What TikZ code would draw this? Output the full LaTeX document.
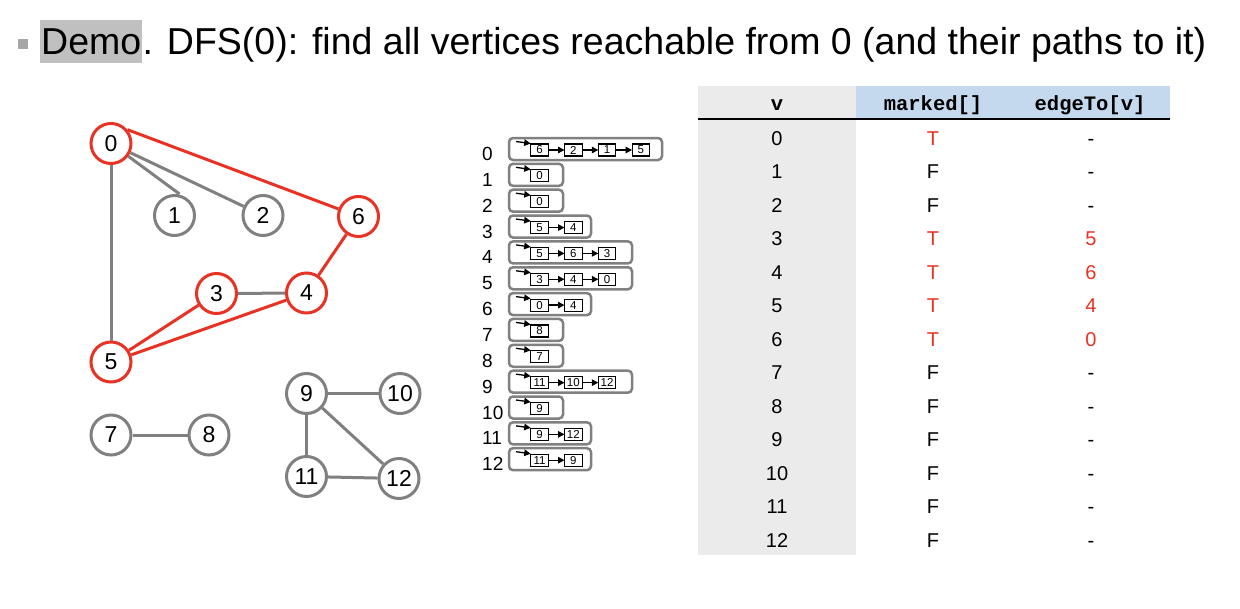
\documentclass[tikz,border=0pt]{standalone}
\usepackage{fontspec}
\setmainfont{Liberation Sans}
\setmonofont{Liberation Mono}
\usetikzlibrary{arrows.meta}
\definecolor{dfsred}{RGB}{232,50,36}
\definecolor{edgegray}{RGB}{128,128,128}
\definecolor{hlgray}{RGB}{192,192,192}
\definecolor{bulletgray}{RGB}{166,166,166}
\definecolor{colgray}{RGB}{235,235,235}
\definecolor{headblue}{RGB}{197,217,238}
\newcommand{\setfs}[1]{\fontsize{#1}{#1}\selectfont}
% one row of the adjacency lists: index, neighbours, right edge of frame
\newcommand{\adjrow}[3]{%
  \pgfmathsetmacro{\ry}{149+25.85*#1}%
  \node[idx] (lbl#1) at (482,\ry+11.5) {#1};
  \draw[lst] (509,\ry-11) rectangle (#3,\ry+11);
  \foreach \val [count=\k from 0] in {#2} {
    \node[cell] (c#1-\k) at (539.5+33.8*\k,\ry+1) {\val};
    \ifnum\k>0
      \pgfmathtruncatemacro{\pk}{\k-1}
      \draw[nxt] (c#1-\pk) -- (c#1-\k);
    \fi
  }
  \coordinate (h#1) at (516,\ry-7.5);
  \draw[nxt] (h#1) -- (c#1-0.north west);
}
\begin{document}
\begin{tikzpicture}[x=1pt,y=-1pt,
  vtx/.style={circle,draw=edgegray,fill=white,line width=3pt,minimum size=40pt,inner sep=0pt,font=\setfs{23}},
  vred/.style={vtx,draw=dfsred},
  gedge/.style={edgegray,line width=3pt},
  redge/.style={dfsred,line width=3pt},
  lst/.style={draw=edgegray,line width=2.5pt,rounded corners=4pt},
  cell/.style={draw=black,line width=1.1pt,minimum width=17.5pt,minimum height=12pt,inner sep=0pt,font=\setfs{11.5}},
  nxt/.style={-{Triangle[length=6.5pt,width=6.5pt]},line width=1.3pt,shorten >=-0.5pt},
  idx/.style={anchor=base west,inner sep=0pt,font=\setfs{19}},
  tcell/.style={anchor=base,inner sep=0pt,font=\setfs{20}},
  thead/.style={anchor=base,inner sep=0pt,font=\ttfamily\bfseries\setfs{20.5}},
]
\useasboundingbox (0,0) rectangle (1240,608);

% title line
\fill[bulletgray] (18,39) rectangle (28,49);
\node[fill=hlgray,anchor=base west,inner xsep=1pt,inner ysep=0pt,text height=34pt,text depth=9pt,font=\setfs{37.5}] (demo) at (40,54) {Demo};
\node[anchor=base west,inner sep=0pt,font=\setfs{37.5}] (title) at (demo.base east) {. DFS(0): find all vertices reachable from 0 (and their paths to it)};

% graph vertices
\node[vred] (v0) at (111,143.5) {0};
\node[vtx]  (v1) at (174.5,215.5) {1};
\node[vtx]  (v2) at (263,215.5) {2};
\node[vred] (v6) at (358.5,216.5) {6};
\node[vred] (v3) at (216.5,293.5) {3};
\node[vred] (v4) at (306.5,293) {4};
\node[vred] (v5) at (111,362) {5};
\node[vtx]  (v9) at (306.5,393.5) {9};
\node[vtx]  (v10) at (400,393.5) {10};
\node[vtx]  (v7) at (111,435) {7};
\node[vtx]  (v8) at (209,435) {8};
\node[vtx]  (v11) at (306.5,476.5) {11};
\node[vtx]  (v12) at (399,478.5) {12};

% graph edges
\draw[gedge] (v0) -- ([xshift=5pt]v1.north);
\draw[gedge] (v0) -- (v2);
\draw[gedge] (v0) -- (v5);
\draw[gedge] (v3) -- (v4);
\draw[redge] (v0.40) -- (v6);
\draw[redge] (v6) -- (v4);
\draw[redge] (v5) -- (v3);
\draw[redge] (v5) -- (v4);
\draw[gedge] (v7) -- (v8);
\draw[gedge] (v9) -- (v10);
\draw[gedge] (v9) -- (v11);
\draw[gedge] (v9) -- (v12);
\draw[gedge] (v11) -- (v12);

% adjacency lists
\adjrow{0}{6,2,1,5}{662}
\adjrow{1}{0}{563}
\adjrow{2}{0}{563}
\adjrow{3}{5,4}{591}
\adjrow{4}{5,6,3}{632}
\adjrow{5}{3,4,0}{632}
\adjrow{6}{0,4}{591}
\adjrow{7}{8}{563}
\adjrow{8}{7}{563}
\adjrow{9}{11,10,12}{632}
\adjrow{10}{9}{563}
\adjrow{11}{9,12}{591}
\adjrow{12}{11,9}{591}

% table of marked[] and edgeTo[]
\fill[colgray] (698,86) rectangle (856,555);
\fill[headblue] (856,86) rectangle (1170,119);
\draw[line width=1.5pt] (698,119) -- (1170,119);
\node[thead] (hv) at (777,110) {v};
\node[thead] (hm) at (933,110) {marked[]};
\node[thead] (he) at (1090,110) {edgeTo[v]};
\foreach \m/\mc/\e/\ec [count=\i from 0] in
  {T/dfsred/-/black, F/black/-/black, F/black/-/black, T/dfsred/5/dfsred,
   T/dfsred/6/dfsred, T/dfsred/4/dfsred, T/dfsred/0/dfsred, F/black/-/black,
   F/black/-/black, F/black/-/black, F/black/-/black, F/black/-/black, F/black/-/black} {
  \node[tcell] (tv\i) at (777,145+33.5*\i) {\i};
  \node[tcell,text=\mc] (tm\i) at (933,145+33.5*\i) {\m};
  \node[tcell,text=\ec] (te\i) at (1091,145+33.5*\i) {\e};
}
\end{tikzpicture}
\end{document}
